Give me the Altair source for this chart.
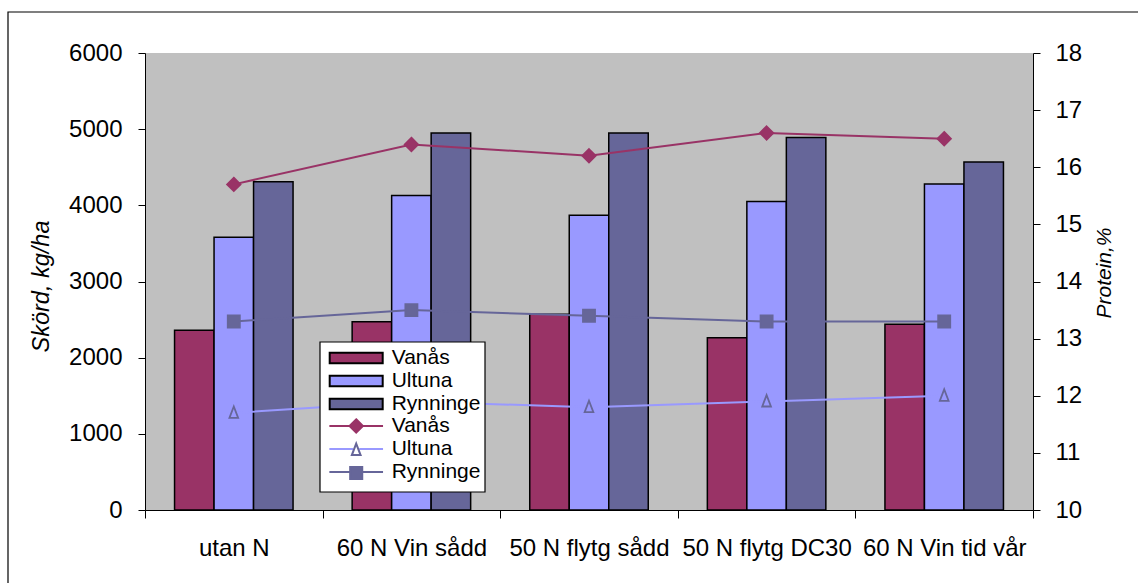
import altair as alt
import pandas as pd

# Treatments on the x axis and the three trial sites
behandlingar = ["utan N", "60 N Vin sådd", "50 N flytg sådd", "50 N flytg DC30", "60 N Vin tid vår"]
platser = ["Vanås", "Ultuna", "Rynninge"]

# Yield, kg/ha (bars, left axis)
skord_vanas = [2360, 2470, 2570, 2260, 2440]
skord_ultuna = [3580, 4130, 3870, 4050, 4280]
skord_rynninge = [4310, 4950, 4950, 4890, 4570]

# Protein, % (lines, right axis)
protein_vanas = [15.7, 16.4, 16.2, 16.6, 16.5]
protein_ultuna = [11.7, 11.9, 11.8, 11.9, 12.0]
protein_rynninge = [13.3, 13.5, 13.4, 13.3, 13.3]

bar_colors = ["#993366", "#9999FF", "#666699"]
line_colors = ["#993366", "#9999FF", "#666699"]
marker_fill = ["#993366", "transparent", "#666699"]
marker_stroke = ["#993366", "#666699", "#666699"]

# marker outlines (unit paths, scaled by the symbol size)
DIAMOND = "M0,-1L1,0L0,1L-1,0Z"
TRIANGLE = "M0,-0.95L0.65,0.75L-0.65,0.75Z"
SQUARE = "M-0.9,-0.9H0.9V0.9H-0.9Z"

FONT = "Liberation Sans"
W, H = 888, 457

skord = {"Vanås": skord_vanas, "Ultuna": skord_ultuna, "Rynninge": skord_rynninge}
protein = {"Vanås": protein_vanas, "Ultuna": protein_ultuna, "Rynninge": protein_rynninge}

bar_df = pd.DataFrame(
    [{"Behandling": b, "Sort": p, "Skörd": skord[p][i]}
     for p in platser for i, b in enumerate(behandlingar)]
)
line_df = pd.DataFrame(
    [{"Behandling": b, "Serie": p, "Linje": p, "Protein": protein[p][i]}
     for p in platser for i, b in enumerate(behandlingar)]
)

# category bands fill the whole width so the ticks fall between the groups;
# the gap between groups comes from the outer padding of the offset scale
x_axis = alt.Axis(
    title=None, labelAngle=0, labelFont=FONT, labelFontSize=24, labelColor="black",
    labelPadding=18, tickBand="extent", tickSize=8, tickColor="black",
    domainColor="black", domainWidth=1, ticks=True, grid=False,
)
x_enc = alt.X(
    "Behandling:N",
    scale=alt.Scale(domain=behandlingar, paddingInner=0, paddingOuter=0),
    axis=x_axis,
)

leg_common = dict(
    title=None, orient="none", padding=0, labelFont=FONT, labelFontSize=21,
    labelColor="black", symbolSize=180, symbolStrokeWidth=2, rowPadding=1,
    labelOffset=25, symbolOffset=0,
)
LEG_X = 200.7

bars = alt.Chart(bar_df).mark_bar(stroke="black", strokeWidth=1.5).encode(
    x=x_enc,
    xOffset=alt.XOffset(
        "Sort:N",
        scale=alt.Scale(domain=platser, paddingInner=0, paddingOuter=0.748),
    ),
    y=alt.Y(
        "Skörd:Q",
        scale=alt.Scale(domain=[0, 6000], nice=False),
        axis=alt.Axis(
            values=list(range(0, 6001, 1000)), format="d", grid=False, tickSize=7,
            tickColor="black", domainColor="black", labelFont=FONT,
            labelFontSize=24, labelColor="black", labelPadding=16,
            title="Skörd, kg/ha", titleFont=FONT, titleFontSize=23.5,
            titleFontStyle="italic", titleFontWeight="normal", titleColor="black",
            titleAngle=270, titleAlign="center", titleBaseline="middle",
            titleX=-104, titleY=233,
        ),
    ),
    fill=alt.Fill(
        "Sort:N", scale=alt.Scale(domain=platser, range=bar_colors),
        legend=alt.Legend(
            legendX=LEG_X, legendY=294.5,
            symbolType="M-3.95,-0.8H3.95V0.8H-3.95Z",
            symbolStrokeColor="black",
            **leg_common,
        ),
    ),
)

y_right = alt.Y(
    "Protein:Q",
    scale=alt.Scale(domain=[10, 18], nice=False),
    axis=alt.Axis(
        orient="right", values=list(range(10, 19)), grid=False, tickSize=7,
        tickColor="black", domainColor="black", labelFont=FONT,
        labelFontSize=24, labelColor="black", labelPadding=15,
        title="Protein,%", titleFont=FONT, titleFontSize=21,
        titleFontStyle="italic", titleFontWeight="normal", titleColor="black",
        titleAngle=270, titleAlign="center", titleBaseline="middle",
        titleX=71, titleY=219.5,
    ),
)
y_right_plain = alt.Y("Protein:Q", scale=alt.Scale(domain=[10, 18], nice=False), axis=None)

# legend line swatches; the Ultuna line leaves a gap for the hollow triangle
line_shape_expr = "datum.value == 'Ultuna' ? 'M-4,0H-0.45M0.45,0H4' : 'M-4,0H4'"
lines = alt.Chart(line_df).mark_line(strokeWidth=2).encode(
    x=x_enc,
    y=y_right,
    color=alt.Color(
        "Linje:N", scale=alt.Scale(domain=platser, range=line_colors),
        legend=alt.Legend(
            legendX=LEG_X, legendY=362.5,
            symbolType=alt.ExprRef(line_shape_expr),
            **leg_common,
        ),
    ),
)

marker_legend = alt.Legend(legendX=LEG_X, legendY=362.5, labelOpacity=0, **leg_common)
points = alt.Chart(line_df).mark_point(filled=True, size=180, strokeWidth=1.8, opacity=1).encode(
    x=x_enc,
    y=y_right_plain,
    shape=alt.Shape("Serie:N",
                    scale=alt.Scale(domain=platser, range=[DIAMOND, TRIANGLE, SQUARE]),
                    legend=marker_legend),
    fill=alt.Fill("Serie:N", scale=alt.Scale(domain=platser, range=marker_fill),
                  legend=marker_legend),
    stroke=alt.Stroke("Serie:N", scale=alt.Scale(domain=platser, range=marker_stroke),
                      legend=marker_legend),
)

one = alt.Data(values=[{}])
legend_box = alt.Chart(one).mark_rect(fill="white", stroke="black", strokeWidth=1.2).encode(
    x=alt.value(175), x2=alt.value(340), y=alt.value(289), y2=alt.value(439)
)
frame = alt.Chart(one).mark_rect(fill="transparent", stroke="black", strokeWidth=1.2).encode(
    x=alt.value(-137), x2=alt.value(1100), y=alt.value(-41), y2=alt.value(700)
)

chart = (
    alt.layer(bars, lines, points, legend_box, frame)
    .resolve_scale(y="independent", fill="independent", stroke="independent",
                   shape="independent", color="independent")
    .properties(
        width=W, height=H,
        padding={"left": 145, "top": 53, "right": 105, "bottom": 73},
        autosize=alt.AutoSizeParams(type="none"),
        background="white",
    )
    .configure_view(fill="#C0C0C0", stroke=None)
)

chart.save("out.html", embed_options={"renderer": "svg", "actions": False})
